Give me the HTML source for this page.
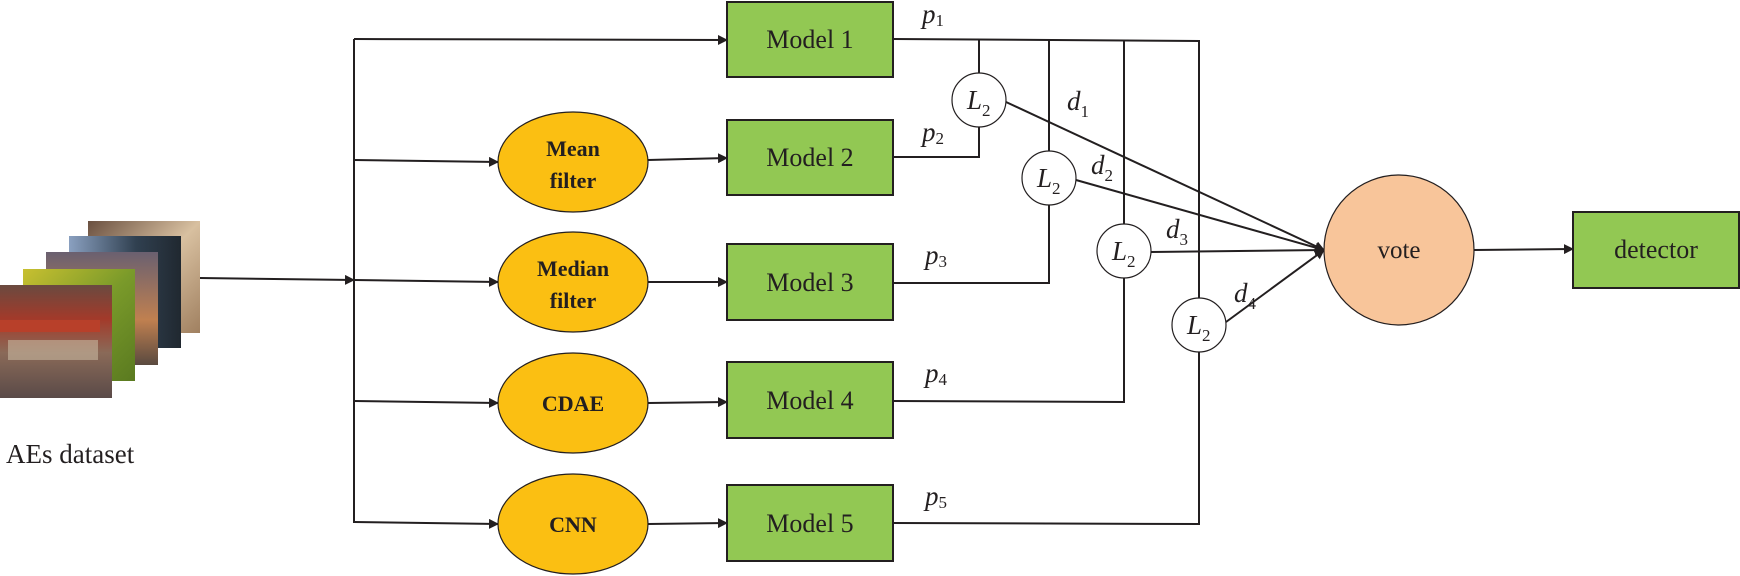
<!DOCTYPE html>
<html><head><meta charset="utf-8"><style>
html,body{margin:0;padding:0;background:#fff;}
svg{display:block;}
text{font-family:"Liberation Serif",serif;fill:#231f20;}
</style></head><body>
<svg width="1740" height="576" viewBox="0 0 1740 576" xmlns="http://www.w3.org/2000/svg">
<defs>
<marker id="a" markerWidth="10" markerHeight="10" refX="9" refY="5" orient="auto" markerUnits="userSpaceOnUse"><path d="M0,0 L10,5 L0,10 Z" fill="#231f20"/></marker>
<linearGradient id="g1" x1="0" y1="0" x2="0" y2="1"><stop offset="0" stop-color="#6a4a40"/><stop offset="0.3" stop-color="#a33a2a"/><stop offset="0.6" stop-color="#8a6a58"/><stop offset="1" stop-color="#5a4a48"/></linearGradient>
<linearGradient id="g2" x1="0" y1="0" x2="1" y2="1"><stop offset="0" stop-color="#c8c030"/><stop offset="0.5" stop-color="#7a9a2a"/><stop offset="1" stop-color="#5a7a20"/></linearGradient>
<linearGradient id="g3" x1="0" y1="0" x2="0" y2="1"><stop offset="0" stop-color="#6a6070"/><stop offset="0.6" stop-color="#c08050"/><stop offset="1" stop-color="#5a4a40"/></linearGradient>
<linearGradient id="g4" x1="0" y1="0" x2="1" y2="0"><stop offset="0" stop-color="#8aa0c0"/><stop offset="0.6" stop-color="#304050"/><stop offset="1" stop-color="#202830"/></linearGradient>
<linearGradient id="g5" x1="0" y1="0" x2="1" y2="1"><stop offset="0" stop-color="#6a5040"/><stop offset="0.5" stop-color="#d8c0a0"/><stop offset="1" stop-color="#a08060"/></linearGradient>
</defs>
<g>
<rect x="88" y="221" width="112" height="112" fill="url(#g5)"/>
<rect x="69" y="236" width="112" height="112" fill="url(#g4)"/>
<rect x="46" y="252" width="112" height="113" fill="url(#g3)"/>
<rect x="23" y="269" width="112" height="112" fill="url(#g2)"/>
<rect x="0" y="285" width="112" height="113" fill="url(#g1)"/>
<rect x="0" y="320" width="100" height="12" fill="#b8402a"/>
<rect x="8" y="340" width="90" height="20" fill="#c8b8a0" opacity="0.6"/>
</g>
<text x="6" y="463" font-size="27">AEs dataset</text>
<g stroke="#231f20" stroke-width="2" fill="none">
<line x1="200" y1="278" x2="354" y2="280" marker-end="url(#a)"/>
<line x1="354" y1="39" x2="354" y2="523"/>
<line x1="354" y1="39" x2="727" y2="40" marker-end="url(#a)"/>
<line x1="354" y1="160" x2="498" y2="162" marker-end="url(#a)"/>
<line x1="354" y1="280" x2="498" y2="282" marker-end="url(#a)"/>
<line x1="354" y1="401" x2="498" y2="403" marker-end="url(#a)"/>
<line x1="354" y1="522" x2="498" y2="524" marker-end="url(#a)"/>
<line x1="648" y1="160" x2="727" y2="158" marker-end="url(#a)"/>
<line x1="648" y1="282" x2="727" y2="282" marker-end="url(#a)"/>
<line x1="648" y1="403" x2="727" y2="402" marker-end="url(#a)"/>
<line x1="648" y1="524" x2="727" y2="523" marker-end="url(#a)"/>
<polyline points="893,39 1199,41 1199,298"/>
<line x1="979" y1="40" x2="979" y2="73"/>
<line x1="1049" y1="40" x2="1049" y2="151"/>
<line x1="1124" y1="40" x2="1124" y2="224"/>
<polyline points="893,157 979,157 979,127"/>
<polyline points="893,283 1049,283 1049,205"/>
<polyline points="893,401 1124,402 1124,278"/>
<polyline points="893,523 1199,524 1199,352"/>
<line x1="1006" y1="102" x2="1324" y2="250" marker-end="url(#a)"/>
<line x1="1076" y1="180" x2="1324" y2="250" marker-end="url(#a)"/>
<line x1="1151" y1="252" x2="1324" y2="250" marker-end="url(#a)"/>
<line x1="1226" y1="322" x2="1324" y2="250" marker-end="url(#a)"/>
<line x1="1474" y1="250" x2="1573" y2="249" marker-end="url(#a)"/>
</g>
<g fill="#fbbf12" stroke="#231f20" stroke-width="1.2">
<ellipse cx="573" cy="162" rx="75" ry="50"/>
<ellipse cx="573" cy="282" rx="75" ry="50"/>
<ellipse cx="573" cy="403" rx="75" ry="50"/>
<ellipse cx="573" cy="524" rx="75" ry="50"/>
</g>
<g font-size="22" font-weight="bold" text-anchor="middle">
<text x="573" y="156">Mean</text><text x="573" y="188">filter</text>
<text x="573" y="276">Median</text><text x="573" y="308">filter</text>
<text x="573" y="411">CDAE</text>
<text x="573" y="532">CNN</text>
</g>
<g fill="#92c853" stroke="#231f20" stroke-width="2">
<rect x="727" y="2" width="166" height="75"/>
<rect x="727" y="120" width="166" height="75"/>
<rect x="727" y="244" width="166" height="76"/>
<rect x="727" y="362" width="166" height="76"/>
<rect x="727" y="485" width="166" height="76"/>
<rect x="1573" y="212" width="166" height="76"/>
</g>
<g font-size="26" text-anchor="middle">
<text x="810" y="48">Model 1</text>
<text x="810" y="166">Model 2</text>
<text x="810" y="291">Model 3</text>
<text x="810" y="409">Model 4</text>
<text x="810" y="532">Model 5</text>
<text x="1656" y="258">detector</text>
</g>
<circle cx="1399" cy="250" r="75" fill="#f8c59a" stroke="#231f20" stroke-width="1.2"/>
<text x="1399" y="258" font-size="25" text-anchor="middle">vote</text>
<g fill="#fff" stroke="#231f20" stroke-width="1.2">
<circle cx="979" cy="100" r="27"/>
<circle cx="1049" cy="178" r="27"/>
<circle cx="1124" cy="251" r="27"/>
<circle cx="1199" cy="325" r="27"/>
</g>
<g font-size="27" font-style="italic">
<text x="967" y="109">L<tspan font-size="17" font-style="normal" dy="7">2</tspan></text>
<text x="1037" y="187">L<tspan font-size="17" font-style="normal" dy="7">2</tspan></text>
<text x="1112" y="260">L<tspan font-size="17" font-style="normal" dy="7">2</tspan></text>
<text x="1187" y="334">L<tspan font-size="17" font-style="normal" dy="7">2</tspan></text>
<text x="922" y="23">p<tspan font-size="17" font-style="normal" dy="3">1</tspan></text>
<text x="922" y="141">p<tspan font-size="17" font-style="normal" dy="3">2</tspan></text>
<text x="925" y="264">p<tspan font-size="17" font-style="normal" dy="3">3</tspan></text>
<text x="925" y="382">p<tspan font-size="17" font-style="normal" dy="3">4</tspan></text>
<text x="925" y="505">p<tspan font-size="17" font-style="normal" dy="3">5</tspan></text>
<text x="1067" y="110">d<tspan font-size="17" font-style="normal" dy="7">1</tspan></text>
<text x="1091" y="174">d<tspan font-size="17" font-style="normal" dy="7">2</tspan></text>
<text x="1166" y="238">d<tspan font-size="17" font-style="normal" dy="7">3</tspan></text>
<text x="1234" y="302">d<tspan font-size="17" font-style="normal" dy="7">4</tspan></text>
</g>
</svg>
</body></html>
